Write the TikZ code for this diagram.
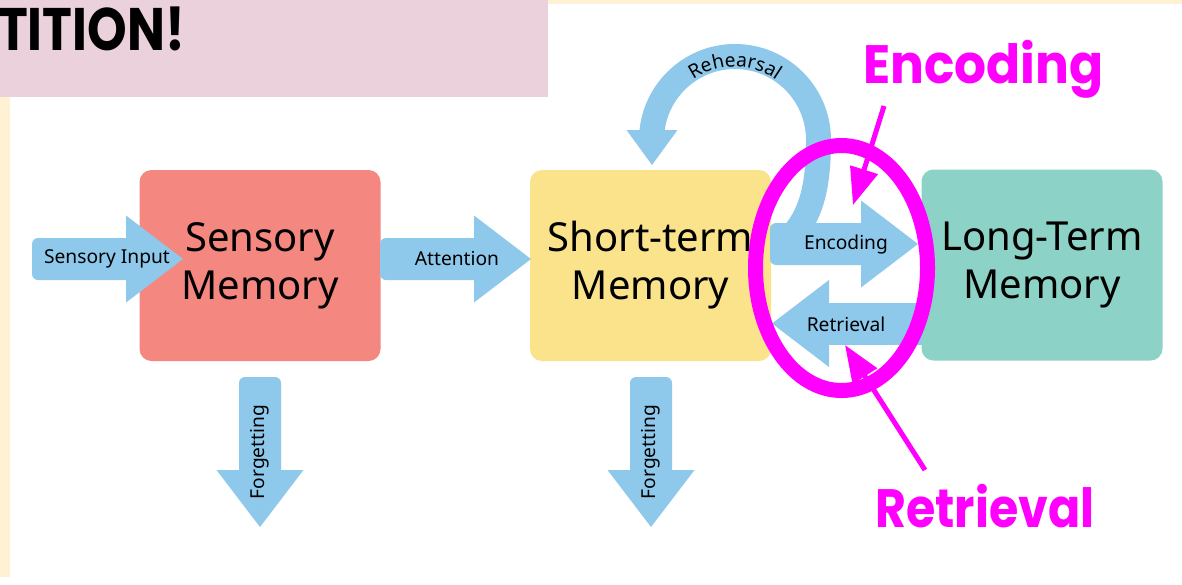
\documentclass[tikz,border=0pt]{standalone}
\usepackage{fontspec}
\usepackage{graphicx}
\setmainfont{Noto Sans}
\newfontfamily\headfont{Poppins}
\usetikzlibrary{arrows.meta,decorations.text,calc,shapes.geometric}
\definecolor{arrowblue}{RGB}{142,201,236}
\definecolor{salmon}{RGB}{244,135,127}
\definecolor{stmyellow}{RGB}{251,227,139}
\definecolor{ltmteal}{RGB}{140,210,198}
\definecolor{hdrpink}{RGB}{234,209,220}
\definecolor{cream}{RGB}{255,242,212}
\definecolor{mag}{RGB}{255,0,255}
\newcommand\lblsize{\fontsize{19.2}{23}\selectfont}
% horizontal block arrow pointing right: #1 tail, #2 tip
\newcommand\blockR[2]{%
  \fill[arrowblue,rounded corners=6pt] let \p1=#1,\p2=#2 in (\x1,\y2-21pt) rectangle (\x2-51pt,\y2+21pt);
  \fill[arrowblue] let \p2=#2 in (\x2-57pt,\y2-43.5pt) -- (\x2,\y2) -- (\x2-57pt,\y2+43.5pt) -- cycle;}
% pointing left
\newcommand\blockL[2]{%
  \fill[arrowblue] let \p1=#1,\p2=#2 in (\x2+51pt,\y2-21pt) rectangle (\x1,\y2+21pt);
  \fill[arrowblue] let \p2=#2 in (\x2+57pt,\y2-43.5pt) -- (\x2,\y2) -- (\x2+57pt,\y2+43.5pt) -- cycle;}
% pointing down
\newcommand\blockD[2]{%
  \fill[arrowblue,rounded corners=6pt] let \p1=#1,\p2=#2 in (\x2-21pt,\y1) rectangle (\x2+21pt,\y2+51pt);
  \fill[arrowblue] let \p2=#2 in (\x2-43.5pt,\y2+57pt) -- (\x2,\y2) -- (\x2+43.5pt,\y2+57pt) -- cycle;}
\tikzset{
  membox/.style={rounded corners=12pt, minimum width=241pt, minimum height=191pt, inner sep=0pt,
    align=center, font=\fontsize{40}{48}\selectfont, text=black},
  lbl/.style={font=\lblsize, inner sep=0pt, text=black},
  magtext/.style={font=\headfont\bfseries\fontsize{54}{60}\selectfont, text=mag, inner sep=0pt},
  magarrow/.style={draw=mag, line width=5pt, -{Triangle[length=37pt,width=28pt]}},
}
\begin{document}
\begin{tikzpicture}[x=1pt,y=-1pt]
\useasboundingbox (0,0) rectangle (1182,584);
\fill[white] (0,0) rectangle (1182,584);
\fill[cream] (0,0) rectangle (1182,4);
\fill[cream] (0,0) rectangle (10,577);
\fill[hdrpink] (0,0) rectangle (548,97);
\node[font=\headfont\bfseries\fontsize{60}{66}\selectfont, anchor=base west, inner sep=0pt] (title) at (-2,50) {\scalebox{0.84}[1]{TITION!}};

% memory boxes
\node[membox, fill=salmon] (sm) at (260,265.5) {Sensory\\Memory};
\node[membox, fill=stmyellow] (stm) at (650.5,265.5) {Short-term\\Memory};
\node[membox, fill=ltmteal] (ltm) at (1042,265) {Long-Term\\Memory};

% connector end points
\coordinate (in-tail) at (32,259);
\coordinate (in-tip) at (183,259);
\coordinate (att-tail) at (380,259);
\coordinate (att-tip) at (531,259);
\coordinate (enc-tail) at (770,244);
\coordinate (enc-tip) at (918,244);
\coordinate (ret-tail) at (922,323.5);
\coordinate (ret-tip) at (772,323.5);
\coordinate (f1-tail) at (260,377);
\coordinate (f1-tip) at (260,527);
\coordinate (f2-tail) at (651,377);
\coordinate (f2-tip) at (651,527);

% rehearsal loop
\draw[arrowblue, line width=25pt] (790,238) .. controls (812,215) and (818.5,185) .. (818.5,140)
  arc[start angle=0, end angle=-180, radius=83.5];
\fill[arrowblue] (626.5,130) -- (652,165) -- (677.5,130) -- cycle;
\path[decorate, decoration={text along path, text={|\lblsize|Rehearsal}, text align=center}]
  (671.8,103.5) arc[start angle=-150, end angle=-30, radius=73];

% block arrows
\blockR{(in-tail)}{(in-tip)}
\blockR{(att-tail)}{(att-tip)}
\blockR{(enc-tail)}{(enc-tip)}
\blockL{(ret-tail)}{(ret-tip)}
\blockD{(f1-tail)}{(f1-tip)}
\blockD{(f2-tail)}{(f2-tip)}

\node[lbl] (l-in) at (107,259) {Sensory Input};
\node[lbl] (l-att) at (457,259) {Attention};
\node[lbl] (l-enc) at (846,245) {Encoding};
\node[lbl] (l-ret) at (846,324) {Retrieval};
\node[lbl, rotate=90] (l-f1) at (260,452) {Forgetting};
\node[lbl, rotate=90] (l-f2) at (651,452) {Forgetting};

% magenta annotation
\node[draw=mag, line width=15pt, ellipse, minimum width=172pt, minimum height=245pt, inner sep=0pt] (ring) at (841.5,268) {};
\node[magtext, anchor=base west] (t-enc) at (863,83) {\scalebox{0.93}[1]{Encoding}};
\node[magtext, anchor=base west] (t-ret) at (875,527) {\scalebox{0.88}[1]{Retrieval}};
\coordinate (me-a) at (884,106);
\coordinate (me-b) at (853,205);
\coordinate (mr-a) at (925,470);
\coordinate (mr-b) at (845,345);
\draw[magarrow] (me-a) -- (me-b);
\draw[magarrow] (mr-a) -- (mr-b);
\end{tikzpicture}
\end{document}
